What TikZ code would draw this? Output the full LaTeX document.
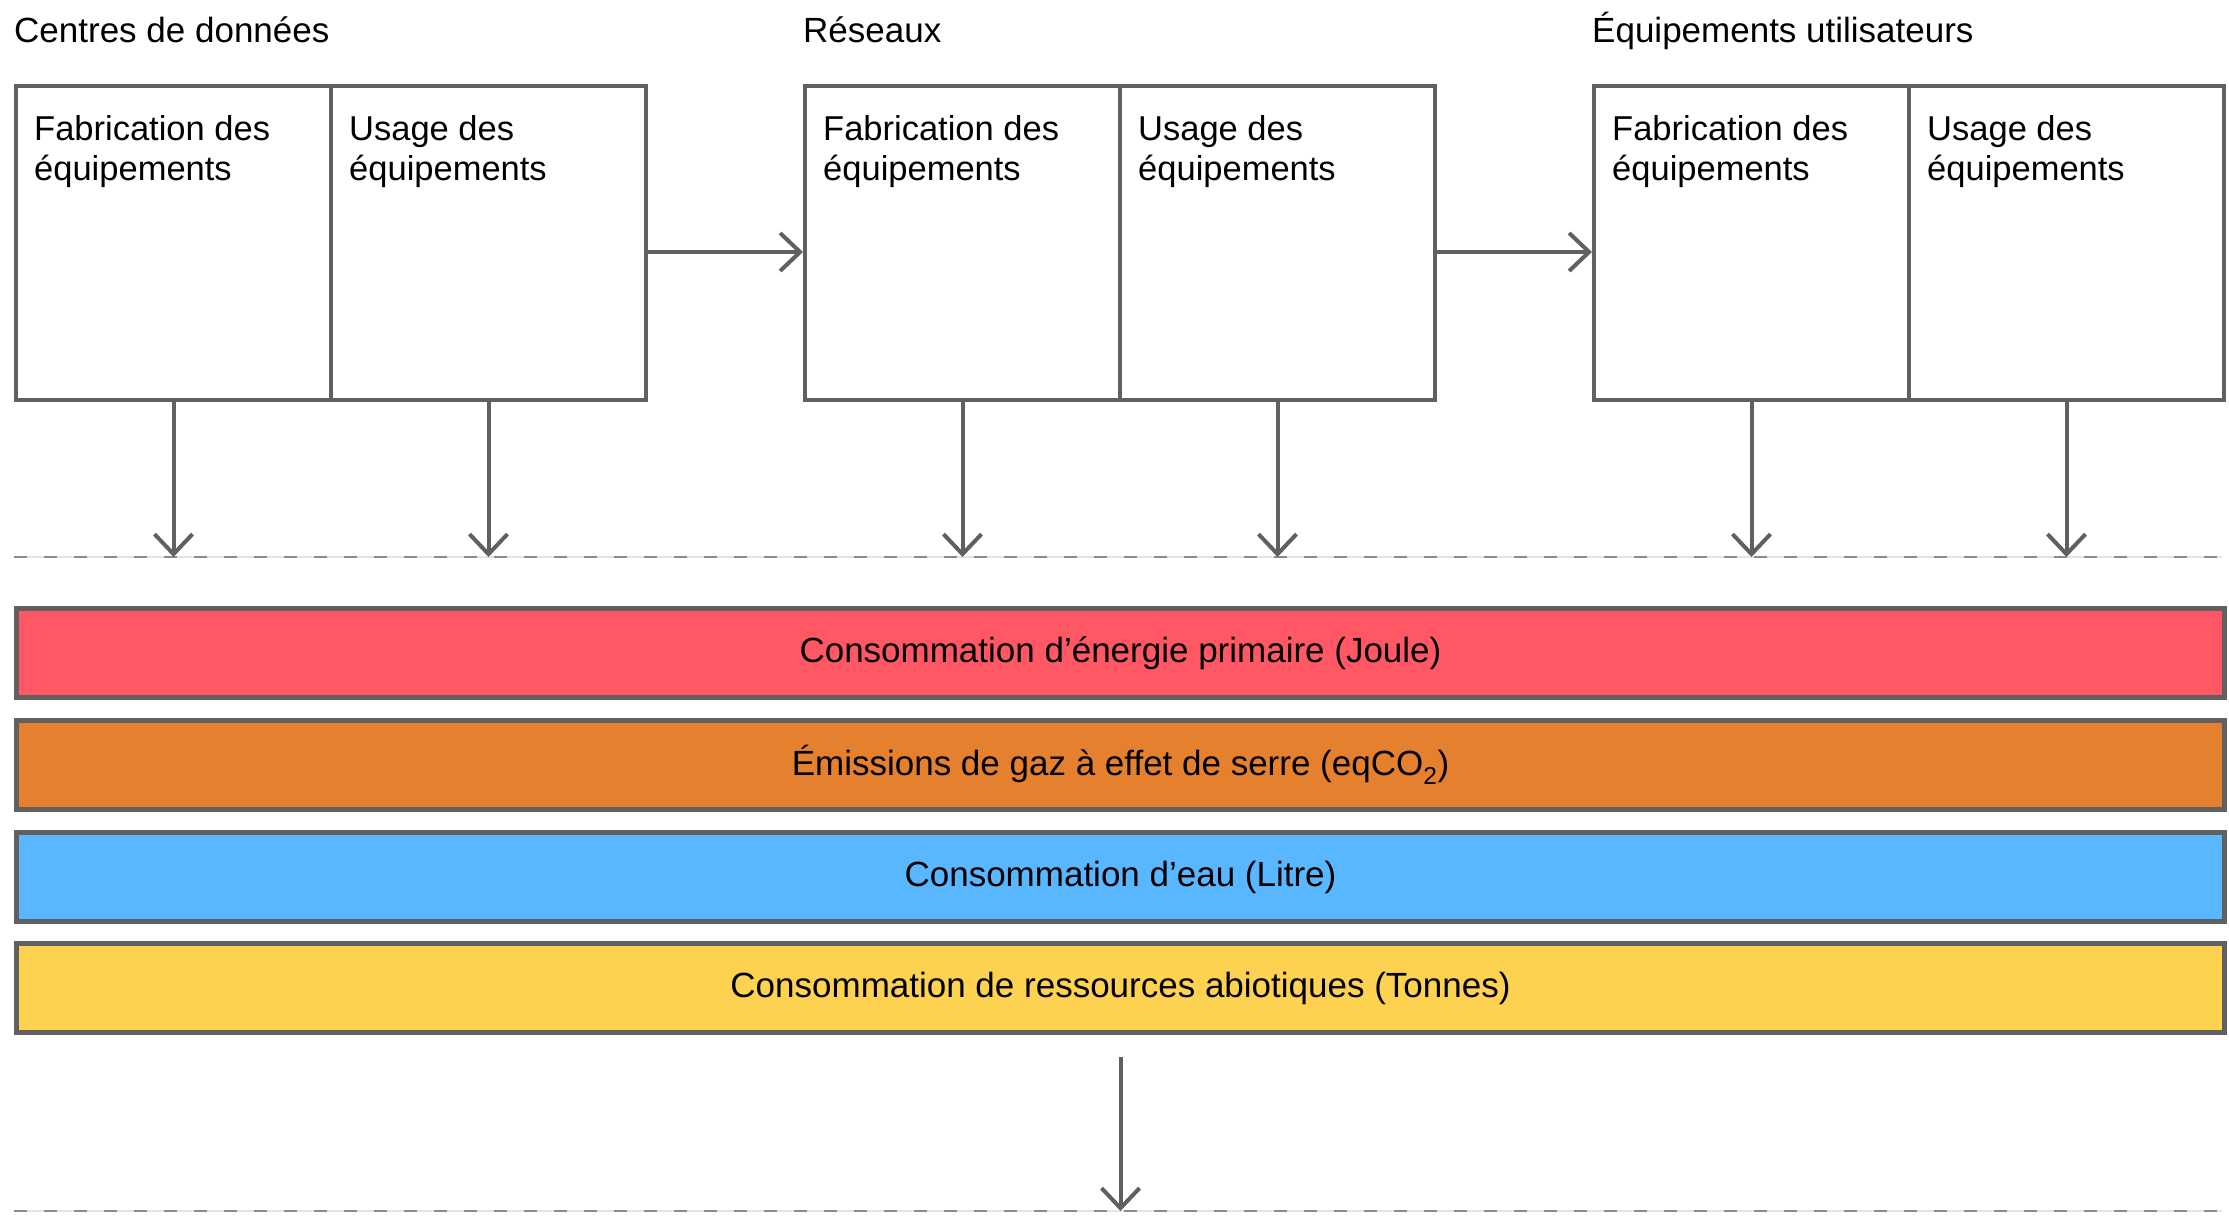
\documentclass[tikz,border=0pt]{standalone}
\usepackage{fontspec}
\setmainfont{Liberation Sans}
\usetikzlibrary{arrows.meta}
\definecolor{lc}{HTML}{606060}
\definecolor{dashc}{HTML}{8A8A8A}
\definecolor{dashbg}{HTML}{E4E4E4}
\definecolor{cred}{HTML}{FF5864}
\definecolor{corange}{HTML}{E5802E}
\definecolor{cblue}{HTML}{58B7FF}
\definecolor{cyellow}{HTML}{FDD250}
\begin{document}
\begin{tikzpicture}[x=1pt,y=-1pt,
  half/.style={draw=lc, line width=4pt, fill=white, minimum width=315pt, minimum height=314pt, inner sep=0pt, anchor=north west},
  lbl/.style={font=\fontsize{34.5}{40}\selectfont, align=left, anchor=north west, inner sep=0pt},
  ttl/.style={font=\fontsize{35}{40}\selectfont, anchor=base west, inner sep=0pt},
  arr/.style={draw=lc, line width=4pt, -{Straight Barb[length=20pt,width=38pt]}},
  bar/.style={draw=lc, line width=5pt, minimum width=2208pt, minimum height=89pt, inner sep=0pt, anchor=north west, font=\fontsize{35}{40}\selectfont},
  dbg/.style={draw=dashbg, line width=1.5pt},
  dfg/.style={draw=dashc, line width=2.5pt, dash pattern=on 13pt off 17pt}
]
\useasboundingbox[fill=white] (0,0) rectangle (2229,1216);

% titles
\node[ttl] (t1) at (14,42) {Centres de données};
\node[ttl] (t2) at (803,42) {Réseaux};
\node[ttl] (t3) at (1592,42) {Équipements utilisateurs};

% dashed lines
\coordinate (dA) at (14,557);
\coordinate (dB) at (2222,557);
\coordinate (eA) at (14,1211);
\coordinate (eB) at (2222,1211);
\draw[dbg] (dA) -- (dB);
\draw[dfg] (dA) -- (dB);
\draw[dbg] (eA) -- (eB);
\draw[dfg] (eA) -- (eB);

% boxes
\foreach \i/\x in {1/14, 2/803, 3/1592}{
  \node[half] (f\i) at (\x,84) {};
  \node[half] (u\i) at (\x+315,84) {};
  \node[lbl] (lf\i) at (\x+20,115) {Fabrication des\\équipements};
  \node[lbl] (lu\i) at (\x+335,115) {Usage des\\équipements};
}

% horizontal arrows
\draw[arr] ([yshift=-9pt]u1.east) -- ([yshift=-9pt]f2.west);
\draw[arr] ([yshift=-9pt]u2.east) -- ([yshift=-9pt]f3.west);

% down arrows
\foreach \n in {f1,u1,f2,u2,f3,u3}{
  \draw[arr] (\n.south) -- (\n.south |- dA);
}

% bars
\node[bar, fill=cred] (b1) at (14,606) {Consommation d’énergie primaire (Joule)};
\node[bar, fill=corange] (b2) at (14,718) {Émissions de gaz à effet de serre (eqCO\textsubscript{2})};
\node[bar, fill=cblue] (b3) at (14,830) {Consommation d’eau (Litre)};
\node[bar, fill=cyellow] (b4) at (14,941) {Consommation de ressources abiotiques (Tonnes)};

% bottom arrow
\draw[arr, shorten <=22pt] (b4.south) -- (b4.south |- eA);
\end{tikzpicture}
\end{document}
